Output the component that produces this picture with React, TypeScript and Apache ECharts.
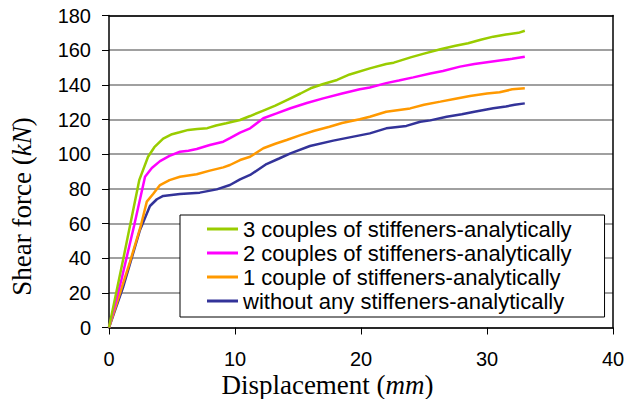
import React, { useEffect, useRef } from "react";
import * as echarts from "echarts";

const seriesNames = [
  "3 couples of stiffeners-analytically",
  "2 couples of stiffeners-analytically",
  "1 couple of stiffeners-analytically",
  "without any stiffeners-analytically",
];
const seriesColors = ["#99cc00", "#ff00ff", "#ff9900", "#333399"];

const x3 = [0, 1.2, 2.4, 3.1, 3.6, 4.3, 5.0, 5.6, 6.3, 7.0, 7.8, 8.5, 9.3, 10.4, 11.2, 12.2, 13.2, 14.2, 15.2, 16.0, 17.0, 18.1, 19.1, 20.7, 22.0, 22.6, 24.0, 25.0, 26.3, 27.5, 28.5, 29.5, 30.5, 31.5, 32.5, 33.0];
const y3 = [0, 42, 85, 98.5, 104, 109, 111.5, 112.6, 114, 114.5, 115, 116.5, 117.8, 119.7, 122, 125, 128, 131.5, 135, 138, 140.5, 142.8, 146, 149.5, 152, 152.8, 156, 158, 160.5, 162.5, 164, 166, 167.8, 169, 170, 171.2];

const x2 = [0, 1.0, 2.0, 2.86, 3.4, 4.05, 4.8, 5.63, 6.3, 6.96, 8.0, 9.07, 9.6, 10.4, 11.2, 12.25, 13.3, 14.4, 15.7, 17.0, 18.5, 19.9, 20.7, 22.0, 23.0, 24.15, 25.5, 26.5, 27.86, 29.0, 30.0, 31.0, 32.0, 33.0];
const y2 = [0, 28, 59, 87, 92, 96, 99, 101.4, 102, 103, 105.3, 107.2, 109.2, 112.4, 114.9, 120.7, 123.5, 126.5, 129.5, 132.2, 135, 137.5, 138.5, 141, 142.5, 144.3, 146.5, 148, 150.5, 152, 153, 154, 155, 156.2];

const x1 = [0, 1.67, 2.5, 3.0, 3.5, 4.05, 4.8, 5.63, 6.96, 8.0, 9.07, 9.6, 10.4, 11.2, 12.25, 13.2, 14.1, 15.2, 16.3, 17.5, 18.5, 19.9, 20.7, 22.0, 23.9, 25.0, 26.3, 27.5, 28.65, 30.0, 31.0, 32.0, 33.0];
const y1 = [0, 38, 58, 72.6, 77, 82.2, 85, 87, 88.4, 90.5, 92.4, 93.75, 96.6, 98.5, 103.4, 106, 108.2, 111, 113.5, 115.8, 118, 120.1, 121.6, 124.5, 126.4, 128.5, 130.3, 132, 133.6, 135, 135.7, 137.4, 138];

const x0 = [0, 1.13, 2.46, 3.25, 3.8, 4.3, 5.63, 7.2, 8.55, 9.6, 10.4, 11.2, 12.5, 13.5, 14.4, 15.95, 17.8, 19.1, 20.7, 22.0, 23.6, 24.7, 25.5, 26.8, 28.0, 29.0, 30.5, 31.5, 32.2, 33.0];
const y0 = [0, 23.5, 56.3, 70.1, 74, 75.9, 77, 77.8, 79.7, 82.2, 85.5, 88, 94.3, 97.5, 100.5, 104.7, 107.8, 109.7, 112, 114.9, 116.3, 118.7, 119.5, 121.6, 123, 124.5, 126.5, 127.5, 128.5, 129.3];

const xTicks = { min: 0, max: 40, interval: 10 };
const yTicks = { min: 0, max: 180, interval: 20 };

const pairs = (xs: number[], ys: number[]) => xs.map((x, i) => [x, ys[i]]);
const allData = [pairs(x3, y3), pairs(x2, y2), pairs(x1, y1), pairs(x0, y0)];

export default function App() {
  const ref = useRef<HTMLDivElement>(null);
  useEffect(() => {
    if (!ref.current) return;
    const chart = echarts.init(ref.current, null, { renderer: "svg" });
    const sans = "'Liberation Sans', Arial, sans-serif";
    const serif = "'Liberation Serif', 'Times New Roman', serif";
    const titleRich = {
      n: { fontSize: 27, lineHeight: 20, fontFamily: serif, fill: "#000", color: "#000" },
      i: { fontSize: 27, lineHeight: 20, fontFamily: serif, fontStyle: "italic", fill: "#000", color: "#000" },
    };
    chart.setOption({
      animation: false,
      backgroundColor: "#fff",
      grid: { left: 109, right: 22, top: 15.5, bottom: 71.5 },
      xAxis: [
        {
          type: "value",
          ...xTicks,
          axisLine: { show: true, onZero: false, lineStyle: { color: "#000", width: 1.5 } },
          axisTick: { show: true, length: 7, lineStyle: { color: "#000", width: 1 } },
          axisLabel: { fontSize: 20, lineHeight: 18, fontFamily: sans, color: "#000", margin: 22 },
          splitLine: { show: false },
        },
        {
          type: "value",
          position: "top",
          ...xTicks,
          axisLine: { show: true, onZero: false, lineStyle: { color: "#000", width: 1.5 } },
          axisTick: { show: false },
          axisLabel: { show: false },
          splitLine: { show: false },
        },
      ],
      yAxis: [
        {
          type: "value",
          ...yTicks,
          axisLine: { show: true, onZero: false, lineStyle: { color: "#000", width: 1.5 } },
          axisTick: { show: true, length: 7, lineStyle: { color: "#000", width: 1 } },
          axisLabel: { fontSize: 20, fontFamily: sans, color: "#000", margin: 18 },
          splitLine: { show: true, lineStyle: { color: "#808080", width: 1.5 } },
        },
        {
          type: "value",
          position: "right",
          ...yTicks,
          axisLine: { show: true, onZero: false, lineStyle: { color: "#000", width: 1.5 } },
          axisTick: { show: false },
          axisLabel: { show: false },
          splitLine: { show: false },
        },
      ],
      legend: {
        orient: "vertical",
        left: 180,
        top: 215,
        padding: [2, 33, 4, 27],
        itemGap: 0,
        itemWidth: 31,
        itemHeight: 3,
        icon: "rect",
        backgroundColor: "#fff",
        borderColor: "#000",
        borderWidth: 1,
        borderRadius: 0,
        textStyle: { fontSize: 22, fontFamily: sans, color: "#000", lineHeight: 24 },
        data: seriesNames,
        z: 10,
      },
      graphic: [
        {
          type: "text",
          x: 327.5,
          y: 385,
          style: {
            text: "{n|Displacement (}{i|mm}{n|)}",
            textAlign: "center",
            textVerticalAlign: "middle",
            rich: titleRich,
          },
        },
        {
          type: "text",
          x: 22,
          y: 206.5,
          rotation: Math.PI / 2,
          style: {
            text: "{n|Shear force (}{i|kN}{n|)}",
            textAlign: "center",
            textVerticalAlign: "middle",
            rich: titleRich,
          },
        },
      ],
      series: seriesNames.map((name, i) => ({
        name,
        type: "line",
        data: allData[i],
        symbol: "none",
        showSymbol: false,
        color: seriesColors[i],
        itemStyle: { color: seriesColors[i] },
        lineStyle: { color: seriesColors[i], width: 2.5 },
        z: 5 - i,
      })),
    });
    return () => chart.dispose();
  }, []);
  return (
    <div
      ref={ref}
      style={{ position: "absolute", left: 0, top: 0, width: 635, height: 399 }}
    />
  );
}
